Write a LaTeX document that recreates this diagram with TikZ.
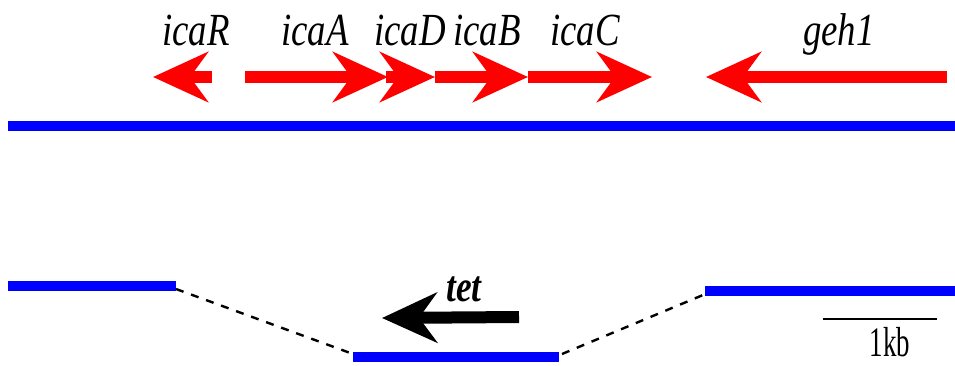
\documentclass[tikz,border=0pt]{standalone}
\usepackage{fontspec}
\setmainfont{Liberation Serif}
\usetikzlibrary{arrows.meta}
\tikzset{
  dna/.style={draw={rgb,255:red,0;green,0;blue,255}, line width=10pt},
  gene/.style={draw=red, line width=12pt, -{Stealth[length=55pt, width=50pt, inset=18pt]}},
  tetgene/.style={draw=black, line width=12pt, -{Stealth[length=55pt, width=50pt, inset=18pt]}},
  glabel/.style={anchor=base, inner sep=0pt, font=\fontsize{46}{46}\selectfont\itshape},
  gap/.style={draw=black, line width=2.4pt, dash pattern=on 8pt off 8pt},
  scalebar/.style={draw=black, line width=2pt}
}
\newcommand{\sq}[2][0.8]{\scalebox{#1}[1]{#2}}
\begin{document}
\begin{tikzpicture}[x=1pt,y=-1pt]
\useasboundingbox (0,0) rectangle (955,365);
% top chromosome
\coordinate (T1) at (8,126);
\coordinate (T2) at (955,126);
\draw[dna] (T1) -- (T2);
% genes
\coordinate (rS) at (212,77); \coordinate (rE) at (153,77);
\coordinate (aS) at (245,77); \coordinate (aE) at (388,77);
\coordinate (dS) at (386,77); \coordinate (dE) at (435,77);
\coordinate (bS) at (435,77); \coordinate (bE) at (528,77);
\coordinate (cS) at (528,77); \coordinate (cE) at (652,77);
\coordinate (gS) at (947,77); \coordinate (gE) at (706,77);
\draw[gene] (rS) -- (rE);
\draw[gene] (aS) -- (aE);
\draw[gene] (dS) -- (dE);
\draw[gene] (bS) -- (bE);
\draw[gene] (cS) -- (cE);
\draw[gene] (gS) -- (gE);
\node[glabel] (lR) at (196,45) {\sq{icaR}};
\node[glabel] (lA) at (315,45) {\sq{icaA}};
\node[glabel] (lD) at (410,45) {\sq{icaD}};
\node[glabel] (lB) at (487,45) {\sq{icaB}};
\node[glabel] (lC) at (585,45) {\sq{icaC}};
\node[glabel] (lG) at (839,45) {\sq{geh1}};
% bottom
\coordinate (L1) at (8,286); \coordinate (L2) at (176,286);
\coordinate (M1) at (353,357); \coordinate (M2) at (559,357);
\coordinate (R1) at (705,291); \coordinate (R2) at (955,291);
\draw[dna] (L1) -- (L2);
\draw[dna] (M1) -- (M2);
\draw[dna] (R1) -- (R2);
\draw[gap] (176,289) -- (353,354);
\draw[gap] (562,354) -- (703,295);
% tet
\coordinate (tS) at (519,317); \coordinate (tE) at (382,318);
\draw[tetgene] (tS) -- (tE);
\node[glabel, font=\fontsize{44}{44}\selectfont\itshape\bfseries] (ltet) at (464,301) {\sq[0.8]{tet}};
% scale bar
\coordinate (S1) at (823,319); \coordinate (S2) at (937,319);
\draw[scalebar] (S1) -- (S2);
\node[anchor=base, inner sep=0pt, font=\fontsize{42}{42}\selectfont] (kb) at (890,356) {\sq[0.64]{1kb}};
\end{tikzpicture}
\end{document}
